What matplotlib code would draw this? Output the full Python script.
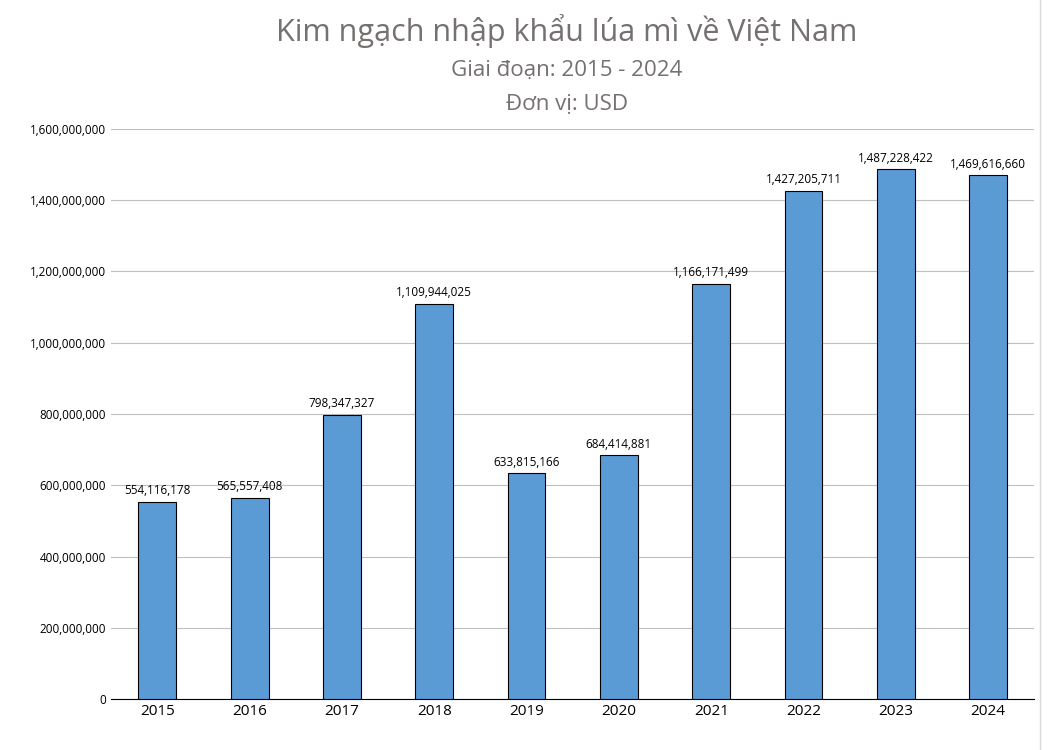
import matplotlib.pyplot as plt
import numpy as np

plt.rcParams['font.family'] = 'Open Sans'

years = ['2015', '2016', '2017', '2018', '2019', '2020', '2021', '2022', '2023', '2024']
values = [554116178, 565557408, 798347327, 1109944025, 633815166,
          684414881, 1166171499, 1427205711, 1487228422, 1469616660]

fig = plt.figure(figsize=(10.48, 7.5), dpi=100)
ax = fig.add_axes([0.106, 0.068, 0.881, 0.760])

x = np.arange(len(years))
ax.bar(x, values, width=0.41, color='#5B9BD5', edgecolor='black', linewidth=0.8, zorder=3)

for xi, v in zip(x, values):
    ax.text(xi, v + 12e6, f'{v:,}', ha='center', va='bottom', fontsize=8.5, color='black')

ax.set_xlim(-0.5, len(years) - 0.5)
ax.set_ylim(0, 1.6e9)
ticks = np.arange(0, 1.6e9 + 1, 2e8)
ax.set_yticks(ticks)
ax.set_yticklabels([f'{int(t):,}' for t in ticks], fontsize=8.5)
ax.set_xticks(x)
ax.set_xticklabels(years, fontsize=11)
ax.grid(axis='y', color='#BFBFBF', linewidth=0.8, zorder=0)
ax.tick_params(length=0)
for s in ['top', 'right', 'left']:
    ax.spines[s].set_visible(False)
ax.spines['bottom'].set_color('black')

# thin outer chart border on the right, as in the source
fig.add_artist(plt.Line2D([0.9925, 0.9925], [0.0, 1.0], color='#D9D9D9', linewidth=1))

gray = '#767171'
fig.text(0.541, 0.958, 'Kim ngạch nhập khẩu lúa mì về Việt Nam', ha='center', va='center', fontsize=22, color=gray)
fig.text(0.541, 0.906, 'Giai đoạn: 2015 - 2024', ha='center', va='center', fontsize=16, color=gray)
fig.text(0.541, 0.861, 'Đơn vị: USD', ha='center', va='center', fontsize=16, color=gray)

plt.savefig('out.png', dpi=100)
